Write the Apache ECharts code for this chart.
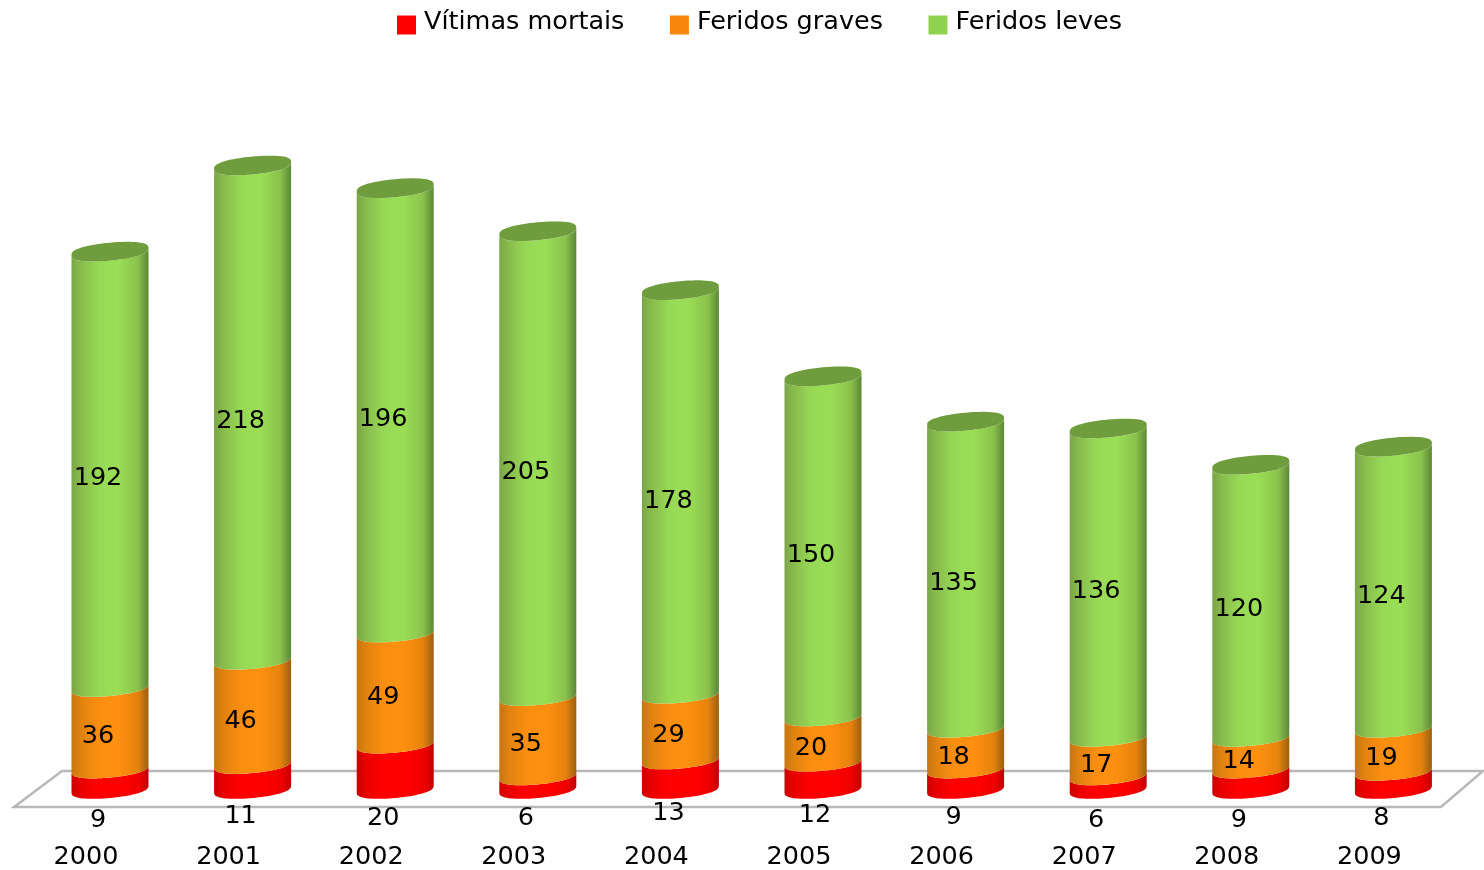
<!DOCTYPE html>
<html><head><meta charset="utf-8">
<style>html,body{margin:0;padding:0;background:#fff}#c{width:1484px;height:870px}</style>
<script src="https://cdn.jsdelivr.net/npm/echarts@6/dist/echarts.min.js"></script>
</head><body><div id="c"></div>
<script>
var years = ['2000','2001','2002','2003','2004','2005','2006','2007','2008','2009'];
var mortais = [9,11,20,6,13,12,9,6,9,8];
var graves = [36,46,49,35,29,20,18,17,14,19];
var leves = [192,218,196,205,178,150,135,136,120,124];
var redLabelDrop = [31,27,29,29,24,26,28,31,31,29];
var redLabelShift = [-12,-12,-12,-12,-12,-8,-12,-12,-12,-12];

var FONT = '"DejaVu Sans", sans-serif';
var A_RATIO = 0.27, B = 9, K = 3.5;
var chart = echarts.init(document.getElementById('c'));

function arc(cx, cy, a, from, to, n) {
  var pts = [];
  for (var i = 0; i <= n; i++) {
    var t = from + (to - from) * i / n, s = Math.sin(t);
    var fat = (s < 0 ? -1 : 1) * Math.pow(Math.abs(s), 0.75);
    pts.push([cx + a * Math.cos(t), cy + B * fat - K * Math.cos(t)]);
  }
  return pts;
}
function grad(c) {
  return new echarts.graphic.LinearGradient(0, 0, 1, 0, c.map(function (s) { return { offset: s[0], color: s[1] }; }));
}
function cylinder(stops, lid, isTop, labelFn) {
  return function (params, api) {
    var i = api.value(0), lo = api.value(1), hi = api.value(2);
    var pLo = api.coord([i, lo]), pHi = api.coord([i, hi]);
    var a = api.size([1, 0])[0] * A_RATIO, cx = pLo[0];
    var pts = arc(cx, pLo[1], a, Math.PI, 0, 40).concat(arc(cx, pHi[1], a, 0, Math.PI, 40));
    var children = [{
      type: 'polygon', shape: { points: pts },
      style: { fill: grad(stops), stroke: null }
    }];
    if (isTop) {
      children.push({
        type: 'polygon', shape: { points: arc(cx, pHi[1], a, 0, 2 * Math.PI, 60) },
        style: { fill: lid }
      });
    }
    var lp = labelFn(i, pLo, pHi, cx);
    children.push({
      type: 'text', z2: 10,
      style: { x: lp[0], y: lp[1], text: String(hi - lo), fill: '#000', font: '25.5px ' + FONT, align: 'center', verticalAlign: 'middle' }
    });
    return { type: 'group', children: children };
  };
}
function midLabel(i, pLo, pHi, cx) { return [cx - 12, (pLo[1] + pHi[1]) / 2 + 9]; }
function redLabel(i, pLo, pHi, cx) { return [cx + redLabelShift[i], pLo[1] + redLabelDrop[i]]; }

var data1 = [], data2 = [], data3 = [];
years.forEach(function (y, i) {
  var a = mortais[i], b = a + graves[i], c = b + leves[i];
  data1.push([i, 0, a]); data2.push([i, a, b]); data3.push([i, b, c]);
});
function series(name, color, data, render) {
  return { name: name, type: 'custom', data: data, renderItem: render, itemStyle: { color: color },
    encode: { x: 0, y: [1, 2] }, clip: false, silent: true };
}

chart.setOption({
  animation: false,
  backgroundColor: '#fff',
  textStyle: { fontFamily: FONT },
  legend: {
    left: 392, top: 4, itemWidth: 19, itemHeight: 19, itemGap: 45.5, icon: 'rect',
    formatter: function (n) { return '{t|' + n + '}'; },
    textStyle: {
      fontFamily: FONT, fontSize: 25.5, color: '#000', padding: [0, 0, 0, 3],
      rich: { t: { fontFamily: FONT, fontSize: 25.5, color: '#000', padding: [0, 0, 6, 0] } }
    },
    data: ['Vítimas mortais', 'Feridos graves', 'Feridos leves']
  },
  grid: { left: 38.7, width: 1426, top: 108.8, height: 680.7, containLabel: false },
  xAxis: {
    type: 'category', data: years,
    axisLine: { show: false }, axisTick: { show: false }, splitLine: { show: false },
    axisLabel: { interval: 0, margin: 55, fontFamily: FONT, fontSize: 25.5, color: '#000', padding: [0, 48, 0, 0] }
  },
  yAxis: { type: 'value', min: 0, max: 300, show: false },
  graphic: [{
    type: 'polygon', z: -1, silent: true,
    shape: { points: [[14, 807], [62, 771], [1483, 771], [1441, 807]] },
    style: { fill: '#fff', stroke: '#b8b8b8', lineWidth: 2.5 }
  }],
  series: [
    series('Vítimas mortais', '#ff0000', data1, cylinder([[0,'#cc0000'],[0.12,'#e80000'],[0.35,'#ff0000'],[0.65,'#ff0000'],[0.88,'#ee0000'],[1,'#c00000']], null, false, redLabel)),
    series('Feridos graves', '#f7860d', data2, cylinder([[0,'#c57612'],[0.12,'#e0820f'],[0.35,'#fb8e10'],[0.6,'#ff900f'],[0.86,'#e6820d'],[1,'#9c5f10']], null, false, midLabel)),
    series('Feridos leves', '#90d24e', data3, cylinder([[0,'#7ba548'],[0.12,'#88bb4c'],[0.35,'#97d955'],[0.6,'#9ade55'],[0.86,'#8ac24c'],[1,'#5c8737']], '#6f9c3c', true, midLabel))
  ]
});
</script></body></html>
